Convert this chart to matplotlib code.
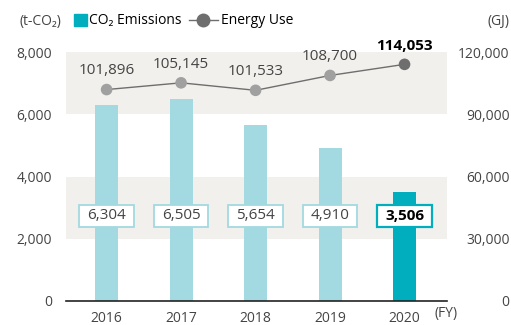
import matplotlib
matplotlib.use("Agg")
import matplotlib.pyplot as plt
from matplotlib.patches import Rectangle
from matplotlib.lines import Line2D

plt.rcParams['font.family'] = ['Open Sans', 'DejaVu Sans']

years = ["2016", "2017", "2018", "2019", "2020"]
co2 = [6304, 6505, 5654, 4910, 3506]
energy = [101896, 105145, 101533, 108700, 114053]
left_ticks = [0, 2000, 4000, 6000, 8000]
right_ticks = [0, 30000, 60000, 90000, 120000]

W, H = 511, 325
fig = plt.figure(figsize=(W / 100, H / 100), dpi=100)
ax_l, ax_r, ax_b, ax_t = 66, 447, 301, 52
ax = fig.add_axes([ax_l / W, 1 - ax_b / H, (ax_r - ax_l) / W, (ax_b - ax_t) / H])

TXT = "#444444"
BAR = "#a3d9e0"
BAR_HI = "#00aebd"
BAND = "#f2f0ec"

x = list(range(len(years)))
ax.set_xlim(-0.545, len(years) - 1 + 0.57)
ax.set_ylim(0, 8000)

# shaded bands
for lo, hi in [(2000, 4000), (6000, 8000)]:
    ax.axhspan(lo, hi, color=BAND, lw=0, zorder=0)

colors = [BAR] * (len(years) - 1) + [BAR_HI]
ax.bar(x, co2, width=0.31, color=colors, zorder=2)

# value boxes for CO2
box_y = 2731
box_w, box_h = 0.73, 675
for i, v in enumerate(co2):
    last = i == len(co2) - 1
    ax.add_patch(Rectangle((i - box_w / 2, box_y - box_h / 2), box_w, box_h,
                           facecolor="white",
                           edgecolor=BAR_HI if last else BAR,
                           lw=1.6 if last else 1.3, zorder=3))
    ax.text(i, box_y, f"{v:,}", ha="center", va="center", fontsize=11,
            color="black" if last else TXT,
            fontweight="bold" if last else "normal", zorder=4)

# energy use on secondary scale
ax2 = ax.twinx()
ax2.set_ylim(0, 120000)
ax2.plot(x, energy, color="#6e6e6e", lw=1.0, zorder=3)
mcol = ["#a0a0a0"] * (len(years) - 1) + ["#6e6e6e"]
ax2.scatter(x, energy, s=70, c=mcol, zorder=4, linewidths=0)
for i, v in enumerate(energy):
    last = i == len(energy) - 1
    ax2.annotate(f"{v:,}", (i, v), xytext=(0, 8), textcoords="offset points",
                 ha="center", va="bottom", fontsize=11,
                 color="black" if last else TXT,
                 fontweight="bold" if last else "normal")

for a in (ax, ax2):
    for s in a.spines.values():
        s.set_visible(False)
ax.spines['bottom'].set_visible(True)
ax.spines['bottom'].set_color("#222222")
ax.spines['bottom'].set_linewidth(1.2)

ax.set_xticks(x)
ax.set_xticklabels(years, fontsize=10, color=TXT)
ax.tick_params(axis='x', length=0, pad=7)
ax.set_yticks(left_ticks)
ax.set_yticklabels([f"{t:,}" for t in left_ticks], fontsize=10, color=TXT)
ax.tick_params(axis='y', length=0, pad=10)
ax2.set_yticks(right_ticks)
ax2.set_yticklabels([f"{t:,}" for t in right_ticks], fontsize=10, color=TXT,
                    ha="right")
ax2.tick_params(axis='y', length=0, pad=45)

# unit labels
fig.text(40 / W, 1 - 22 / H, "(t-CO₂)", ha="center", va="center", fontsize=10, color=TXT)
fig.text(510 / W, 1 - 22 / H, "(GJ)", ha="right", va="center", fontsize=10, color=TXT)
fig.text(446 / W, 1 - 313 / H, "(FY)", ha="center", va="center", fontsize=10, color=TXT)

# legend
fig.patches.append(Rectangle((74 / W, 1 - 26 / H), 13 / W, 12 / H,
                             transform=fig.transFigure, color=BAR_HI))
fig.text(89 / W, 1 - 20 / H, "CO₂ Emissions", ha="left", va="center", fontsize=10, color="black")
fig.lines.append(Line2D([189 / W, 218 / W], [1 - 20 / H, 1 - 20 / H],
                        transform=fig.transFigure, color="#6e6e6e", lw=1.0))
fig.lines.append(Line2D([203 / W], [1 - 20 / H], transform=fig.transFigure,
                        marker="o", markersize=9, color="#6e6e6e", lw=0))
fig.text(221 / W, 1 - 20 / H, "Energy Use", ha="left", va="center", fontsize=10, color="black")

fig.savefig("out.png", dpi=100)
